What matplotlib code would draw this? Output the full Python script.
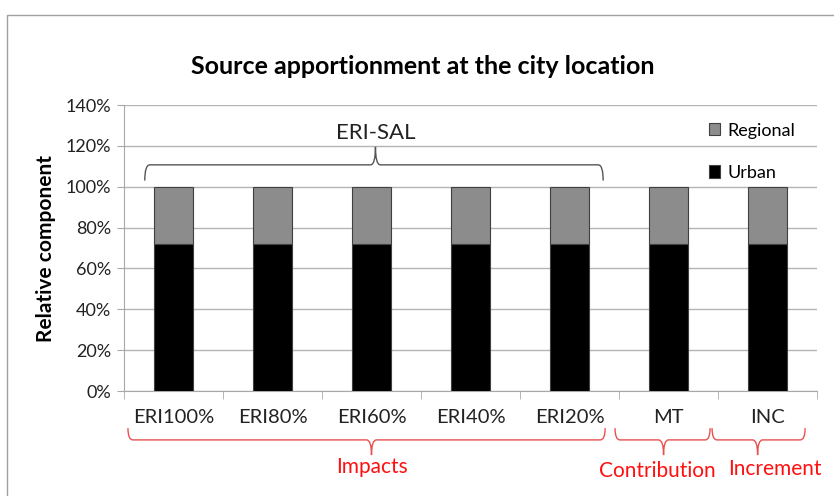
import matplotlib
matplotlib.use("Agg")
import matplotlib.pyplot as plt
import numpy as np
from matplotlib.path import Path
from matplotlib.patches import PathPatch
from matplotlib.lines import Line2D
import matplotlib.transforms as mtransforms

plt.rcParams['font.family'] = ['Lato', 'DejaVu Sans']

categories = ["ERI100%", "ERI80%", "ERI60%", "ERI40%", "ERI20%", "MT", "INC"]
urban = [72, 72, 72, 72, 72, 72, 72]
regional = [28, 28, 28, 28, 28, 28, 28]

W, H = 834, 496
fig = plt.figure(figsize=(W / 100, H / 100), dpi=100)
# axes placed in pixel terms
ax = fig.add_axes([124 / W, 105 / H, (817 - 124) / W, (391 - 105) / H])

x = np.arange(len(categories))
ax.bar(x, urban, width=0.4, color="black", edgecolor="#404040", linewidth=0.8, label="Urban", zorder=3)
ax.bar(x, regional, width=0.4, bottom=urban, color="#8c8c8c", edgecolor="#404040", linewidth=0.8,
       label="Regional", zorder=3)

ax.set_xlim(-0.5, len(categories) - 0.5)
ax.set_ylim(0, 140)
ax.set_yticks(np.arange(0, 141, 20))
ax.set_yticklabels([f"{v}%" for v in range(0, 141, 20)])
ax.yaxis.grid(True, color="#b4b4b4", linewidth=1)
ax.set_axisbelow(True)
for s in ["top", "right"]:
    ax.spines[s].set_visible(False)
for s in ["left", "bottom"]:
    ax.spines[s].set_color("#a8a8a8")
ax.tick_params(axis="y", length=5, color="#a8a8a8", labelsize=13, labelcolor="#222222", pad=4)

ax.set_xticks(x)
ax.set_xticklabels(categories)
ax.tick_params(axis="x", length=0, labelsize=14.5, labelcolor="#222222", pad=13)
ax.set_xticks(np.arange(-0.5, len(categories)), minor=True)
ax.tick_params(axis="x", which="minor", length=6, color="#a8a8a8")

ax.set_ylabel("Relative component", fontsize=15, fontweight="bold", labelpad=7)
fig.text(423 / W, 1 - 67 / H, "Source apportionment at the city location", fontsize=18,
         fontweight="bold", ha="center", va="center")

h, l = ax.get_legend_handles_labels()
ax.legend(h[::-1], l[::-1], loc="upper left", bbox_to_anchor=(0.82, 0.995), frameon=False,
          fontsize=13, handlelength=0.65, handleheight=0.65, handletextpad=0.4, labelspacing=1.45)


def brace(ax, x0, x1, xm, yline, yend, ytip, trans, color, lw=1.0, dx=0.06):
    verts = [(x0, yend), (x0, yline), (x0 + dx, yline),
             (xm - dx, yline), (xm, yline), (xm, ytip),
             (xm, yline), (xm + dx, yline),
             (x1 - dx, yline), (x1, yline), (x1, yend)]
    codes = [Path.MOVETO, Path.CURVE3, Path.CURVE3,
             Path.LINETO, Path.CURVE3, Path.CURVE3,
             Path.CURVE3, Path.CURVE3,
             Path.LINETO, Path.CURVE3, Path.CURVE3]
    ax.add_patch(PathPatch(Path(verts, codes), fill=False, edgecolor=color, lw=lw,
                           transform=trans, clip_on=False))


# ERI-SAL brace above the first five bars
brace(ax, -0.29, 4.34, 2.04, 110.7, 103, 119.5, ax.transData, "#555555", dx=0.05)
ax.text(2.04, 126.5, "ERI-SAL", fontsize=16, ha="center", va="center", color="#222222")

# red brackets below the category labels
bt = mtransforms.blended_transform_factory(ax.transData, ax.transAxes)
red = "#e8504f"
brace(ax, -0.46, 4.36, 2.0, -0.171, -0.13, -0.224, bt, red, dx=0.05)
brace(ax, 4.46, 5.42, 4.95, -0.171, -0.13, -0.224, bt, red, dx=0.05)
brace(ax, 5.44, 6.38, 5.9, -0.171, -0.13, -0.224, bt, red, dx=0.05)
ax.text(2.0, -0.265, "Impacts", transform=bt, color="#ff1010", fontsize=15, ha="center", va="center")
ax.text(4.89, -0.279, "Contribution", transform=bt, color="#ff1010", fontsize=15, ha="center", va="center")
ax.text(6.07, -0.272, "Increment", transform=bt, color="#ff1010", fontsize=15, ha="center", va="center")

# outer chart border
fig.add_artist(Line2D([7 / W, 7 / W, 1.0], [0.0, 1 - 15 / H, 1 - 15 / H],
                      transform=fig.transFigure, color="#a0a0a0", lw=1))

fig.savefig("out.png", dpi=100)
